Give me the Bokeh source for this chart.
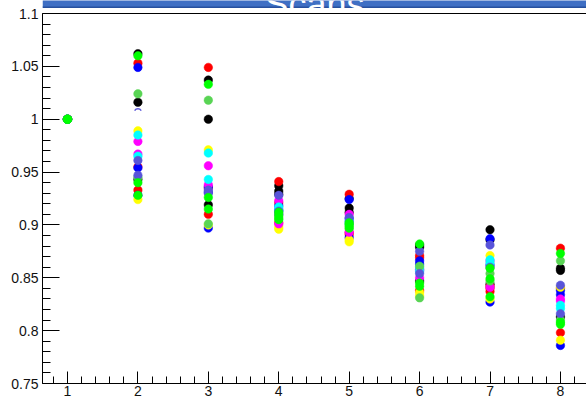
from bokeh.plotting import figure
from bokeh.models import FixedTicker, Span, ColumnDataSource
from bokeh.core.properties import value
from bokeh.embed import file_html
from bokeh.resources import INLINE
import numpy as np

# ---------------- data ----------------
title_text = "Scans"
x_vals = [1, 2, 3, 4, 5, 6, 7, 8]
x_tick_labels = ["1", "2", "3", "4", "5", "6", "7", "8"]
y_ticks = [0.75, 0.8, 0.85, 0.9, 0.95, 1.0, 1.05, 1.1]
y_tick_labels = ["0.75", "0.8", "0.85", "0.9", "0.95", "1", "1.05", "1.1"]

black_series = [
    [1, 1.062, 1.037, 0.937, 0.925, 0.881, 0.8955, 0.859],
    [1, 1.016, 1.000, 0.932, 0.916, 0.879, 0.886, 0.857],
    [1, 0.943, 0.919, 0.929, 0.912, 0.847, 0.844, 0.813],
]
red_series = [
    [1, 1.053, 1.049, 0.941, 0.929, 0.871, 0.840, 0.878],
    [1, 0.955, 0.910, 0.921, 0.893, 0.838, 0.837, 0.798],
    [1, 0.933, 0.935, 0.902, 0.891, 0.869, 0.842, 0.840],
]
blue_series = [
    [1, 1.049, 0.936, 0.918, 0.924, 0.866, 0.887, 0.834],
    [1, 0.954, 0.897, 0.914, 0.906, 0.863, 0.827, 0.786],
    [1, 0.928, 0.931, 0.910, 0.888, 0.858, 0.862, 0.838],
]
yellow_series = [
    [1, 0.989, 0.971, 0.898, 0.886, 0.836, 0.871, 0.791],
    [1, 0.924, 0.900, 0.896, 0.884, 0.833, 0.830, 0.841],
]
magenta_series = [
    [1, 0.979, 0.956, 0.923, 0.910, 0.857, 0.866, 0.828],
    [1, 0.967, 0.938, 0.901, 0.893, 0.850, 0.841, 0.830],
]
cyan_series = [
    [1, 0.985, 0.968, 0.917, 0.904, 0.860, 0.867, 0.821],
    [1, 0.965, 0.943, 0.914, 0.901, 0.856, 0.864, 0.824],
]
lightgreen_series = [
    [1, 1.024, 1.018, 0.906, 0.900, 0.861, 0.854, 0.866],
    [1, 0.945, 0.901, 0.910, 0.897, 0.831, 0.847, 0.810],
]
violet_series = [
    [1, 0.961, 0.933, 0.928, 0.907, 0.875, 0.881, 0.843],
    [1, 0.947, 0.930, 0.913, 0.903, 0.854, 0.860, 0.816],
]
green_series = [
    [1, 1.060, 1.033, 0.908, 0.900, 0.882, 0.859, 0.873],
    [1, 0.940, 0.926, 0.912, 0.902, 0.842, 0.849, 0.806],
    [1, 0.928, 0.915, 0.905, 0.897, 0.845, 0.832, 0.808],
]
odd_x = [2]
odd_y = [1.006]

groups = [
    (black_series, "#000000"),
    (red_series, "#ff0000"),
    (blue_series, "#0000ff"),
    (yellow_series, "#ffff00"),
    (magenta_series, "#ff00ff"),
    (cyan_series, "#00ffff"),
    (lightgreen_series, "#59d454"),
    (violet_series, "#5954d9"),
    (green_series, "#00ff00"),
]

FONT = "Liberation Sans"

# ---------------- layout geometry ----------------
W, H = 586, 400
B_LEFT, B_BOTTOM = 42, 17
AX_TOP_PX = 13           # pixel row of the axis top (y = 1.1)
X0, X1 = 0.645, 8.37
Y0, Y1 = 0.75, 1.1
fw = W - B_LEFT
xpp = (X1 - X0) / fw
ypp = (Y1 - Y0) / (H - B_BOTTOM - AX_TOP_PX)
YTOP = Y1 + AX_TOP_PX * ypp   # frame reaches the canvas top


def cx(px):  # canvas px -> data x
    return X0 + (px - B_LEFT) * xpp


def cy(py):  # canvas px -> data y
    return YTOP - py * ypp


p = figure(width=W, height=H, x_range=(X0, X1), y_range=(Y0, YTOP),
           toolbar_location=None, output_backend="svg",
           min_border_left=B_LEFT, min_border_right=0, min_border_top=0,
           min_border_bottom=B_BOTTOM,
           background_fill_color="white", border_fill_color="white",
           outline_line_color=None)
p.xgrid.visible = False
p.ygrid.visible = False

# title band (partly cut off by the top edge)
p.quad(left=[X0], right=[X1], top=[YTOP + 0.01], bottom=[cy(7)],
       fill_color="#3f6fc4", line_color=None)
p.quad(left=[X0], right=[X1], top=[cy(6)], bottom=[cy(7.5)],
       fill_color="#27509e", line_color=None)
p.text(x=[cx(314)], y=[cy(4)], text=[title_text], text_color="white",
       text_font=value(FONT), text_font_size="36px", text_align="center",
       text_baseline="alphabetic")

for series_list, col in groups:
    for s in series_list:
        src = ColumnDataSource(dict(x=x_vals, y=s))
        p.scatter("x", "y", source=src, size=8.5, fill_color=col, line_color=col,
                  line_width=0.5)

p.arc(x=odd_x, y=odd_y, radius=4, radius_units="screen", start_angle=0.6,
      end_angle=2.54, line_color="#5954d9", line_width=1.5)

p.add_layout(Span(location=Y1, dimension="width", line_color="black", line_width=1))

xminor = list(np.round(np.arange(0.8, 8.3, 0.2), 3))
p.xaxis.ticker = FixedTicker(ticks=x_vals, minor_ticks=xminor)
p.xaxis.major_label_overrides = {v: l for v, l in zip(x_vals, x_tick_labels)}
yminor = list(np.round(np.arange(0.75, 1.1001, 0.01), 3))
p.yaxis.ticker = FixedTicker(ticks=y_ticks, minor_ticks=yminor)
p.yaxis.major_label_overrides = {v: l for v, l in zip(y_ticks, y_tick_labels)}
p.yaxis.bounds = (Y0, Y1)

for ax in (p.xaxis[0], p.yaxis[0]):
    ax.axis_line_color = "black"
    ax.axis_line_width = 1
    ax.major_tick_line_color = "black"
    ax.minor_tick_line_color = "black"
    ax.major_tick_out = 0
    ax.minor_tick_out = 0
    ax.major_label_text_font = FONT
    ax.major_label_text_font_size = "14px"
    ax.major_label_text_color = "#111111"

p.xaxis.major_tick_in = 12
p.xaxis.minor_tick_in = 7
p.xaxis.major_label_standoff = 2
p.yaxis.major_tick_in = 17
p.yaxis.minor_tick_in = 8
p.yaxis.major_label_standoff = 4

open("out.html", "w").write(file_html(p, INLINE))
